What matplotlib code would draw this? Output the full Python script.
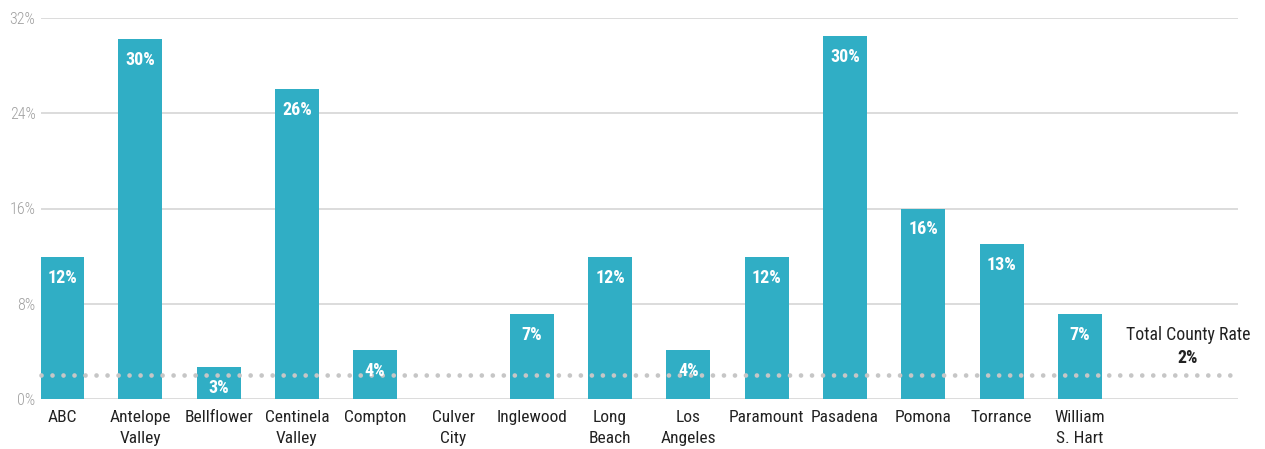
import matplotlib
matplotlib.use("Agg")
import matplotlib.pyplot as plt
import numpy as np

categories = ["ABC", "Antelope\nValley", "Bellflower", "Centinela\nValley", "Compton",
              "Culver\nCity", "Inglewood", "Long\nBeach", "Los\nAngeles", "Paramount",
              "Pasadena", "Pomona", "Torrance", "William\nS. Hart"]
values = [11.9, 30.2, 2.7, 26.0, 4.1, 0.0, 7.1, 11.9, 4.1, 11.9, 30.49, 16.0, 13.0, 7.1]
county_rate = 2.0
yticks = [0, 8, 16, 24, 32]

FONT = ["Roboto Condensed", "Barlow Semi Condensed", "Roboto", "DejaVu Sans"]
plt.rcParams['font.family'] = FONT

W, H = 1265, 449
fig = plt.figure(figsize=(W / 100, H / 100), dpi=100)
ax = fig.add_axes([41 / W, 50 / H, (1238 - 41) / W, (399 - 18) / H])

bar_color = "#30AEC5"
x = np.arange(len(categories))
bars = ax.bar(x, values, width=0.562, color=bar_color, zorder=2)

ax.set_xlim(-0.268, 15.02)
ax.set_ylim(0, 32)

for v, b in zip(values, bars):
    if v > 0:
        ax.annotate(f"{round(v):.0f}%", (b.get_x() + b.get_width() / 2, v),
                    xytext=(0, -21), textcoords="offset pixels",
                    ha="center", va="center", color="white", fontsize=13,
                    fontweight="bold", zorder=4)

for t in yticks:
    ax.axhline(t, color="#d9d9d9", lw=1.3, zorder=1)

ax.plot([-0.268, 15.02], [county_rate, county_rate], color="#c6c6c6", lw=3.4,
        linestyle=(0, (0.001, 2.33)), dash_capstyle="round", zorder=3, clip_on=False)

label_x = 13 + (1188 - 1080) / 78.3
ax.text(label_x, 5.35, "Total County Rate", ha="center", va="center",
        fontsize=12.8, color="#222222")
ax.text(label_x, 3.45, f"{county_rate:.0f}%", ha="center", va="center",
        fontsize=12.8, color="#222222", fontweight="bold")

ax.set_yticks(yticks)
ax.set_yticklabels([f"{t}%" for t in yticks], color="#a0a0a0", fontsize=11.5,
                   fontweight="light")
ax.tick_params(axis="y", length=0, pad=4)
ax.set_xticks(x)
ax.set_xticklabels(categories, fontsize=12.5, color="#222222", linespacing=1.5)
ax.tick_params(axis="x", length=0, pad=8)
for s in ax.spines.values():
    s.set_visible(False)

fig.savefig("out.png", dpi=100)
